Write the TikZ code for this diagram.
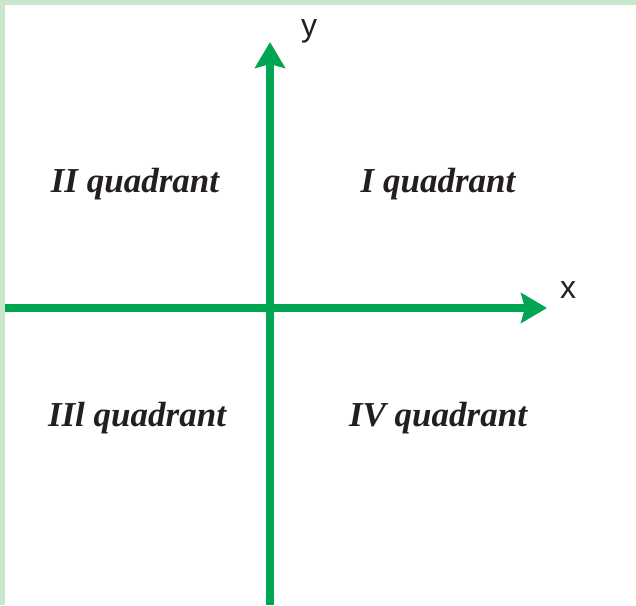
\documentclass[tikz,border=0pt]{standalone}
\usepackage{fontspec}
\setmainfont{Liberation Serif}
\setsansfont{Liberation Sans}
\usepackage{tikz}
\usetikzlibrary{arrows.meta}

\definecolor{axisgreen}{RGB}{0,166,81}
\definecolor{framegreen}{RGB}{200,230,202}
\definecolor{textdark}{RGB}{35,31,32}

\begin{document}
\begin{tikzpicture}[x=0.5pt, y=0.5pt,
    axis/.style={axisgreen, line width=3.6pt, -{Stealth[length=13pt, width=15pt, inset=2pt]}},
    quadlabel/.style={textdark, anchor=base, font=\fontsize{17.5}{20}\selectfont\bfseries\itshape},
    axislabel/.style={textdark, anchor=base, font=\fontsize{16}{18}\selectfont\sffamily}]
  % Frame (light green band at top and left)
  \fill[framegreen] (0,0) rectangle (636,605);
  \fill[white] (5,0) rectangle (636,600);
  \useasboundingbox (0,0) rectangle (636,605);

  % Axis end points
  \coordinate (ybottom) at (270,0);
  \coordinate (ytop) at (270,563);
  \coordinate (xleft) at (5,297);
  \coordinate (xright) at (547,297);

  % Axes
  \draw[axis] (xleft) -- (xright);
  \draw[axis] (ybottom) -- (ytop);

  % Axis labels
  \node[axislabel] (ylabel) at (309,568) {y};
  \node[axislabel] (xlabel) at (568,306) {x};

  % Quadrant labels
  \node[quadlabel] (quadI) at (438,412) {I quadrant};
  \node[quadlabel] (quadII) at (135,412) {II quadrant};
  \node[quadlabel] (quadIII) at (137,179) {IIl quadrant};
  \node[quadlabel] (quadIV) at (438,179) {IV quadrant};
\end{tikzpicture}
\end{document}
